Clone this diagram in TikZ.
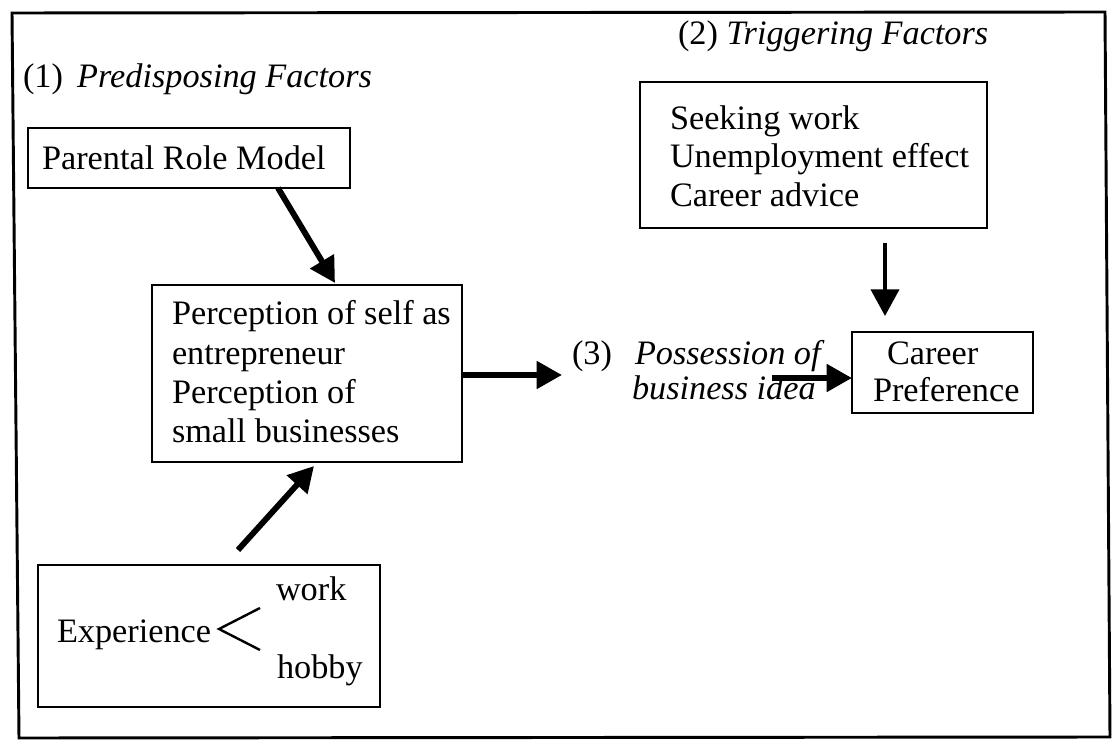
\documentclass[tikz,border=0pt]{standalone}
\usepackage{fontspec}
\setmainfont{Liberation Serif}
\usetikzlibrary{arrows.meta}
\begin{document}
\begin{tikzpicture}[x=0.75pt,y=-0.75pt,
  every node/.style={inner sep=0pt, outer sep=0pt, font=\fontsize{25.7}{29}\selectfont},
  lbl/.style={anchor=base west},
  boxline/.style={draw, line width=2.2pt},
  bigarrow/.style={line width=4.4pt, -{Triangle[length=19pt,width=20pt]}},
  thinarrow/.style={line width=3pt, -{Triangle[length=20pt,width=21pt]}}]
\useasboundingbox (0,0) rectangle (1118,745);

% outer frame
\draw[line width=2.2pt] (12,13) -- (1105,12) -- (1110,737) -- (19,738) -- cycle;

% section headings
\node[lbl] (trig) at (678,45) {(2) \textit{Triggering Factors}};
\node[lbl] (pred) at (23,88) {(1)\, \textit{Predisposing Factors}};

% predisposing: parental role model
\draw[boxline] (28,128) rectangle (350,188);
\node[lbl] (parent) at (42,170) {Parental Role Model};
\coordinate (parentS) at (278,188);

% triggering factors box
\draw[boxline] (640,82) rectangle (987,228);
\node[lbl] (t1) at (670,130) {Seeking work};
\node[lbl] (t2) at (670,168) {Unemployment effect};
\node[lbl] (t3) at (670,207) {Career advice};
\coordinate (trigS) at (885,243);

% perception box
\draw[boxline] (152,285) rectangle (462,462);
\node[lbl] (p1) at (172,325) {Perception of self as};
\node[lbl] (p2) at (172,364) {entrepreneur};
\node[lbl] (p3) at (172,403) {Perception of};
\node[lbl] (p4) at (172,442) {small businesses};
\coordinate (percN) at (335,283);
\coordinate (percE) at (462,375);
\coordinate (percS) at (314,466);

% career preference box
\draw[boxline] (852,332) rectangle (1033,413);
\node[lbl] (c1) at (887,365) {Career};
\node[lbl] (c2) at (873,402) {Preference};
\coordinate (careerN) at (885,316);
\coordinate (careerW) at (852,378);

% possession of business idea
\node[lbl] (n3) at (572,365) {(3)};
\node[lbl] (poss) at (635,365) {\textit{Possession of}};
\node[lbl] (idea) at (632,400) {\textit{business idea}};
\coordinate (ideaE) at (772,378);
\coordinate (ideaW) at (562,375);

% experience box
\draw[boxline] (38,565) rectangle (380,707);
\node[lbl] (exp) at (57,642) {Experience};
\node[lbl] (work) at (276,600) {work};
\node[lbl] (hobby) at (277,678) {hobby};
\draw[line width=1.8pt] (260,608) -- (219,629) -- (260,650);
\coordinate (expN) at (238,550);

% connectors
\draw[bigarrow] (parentS) -- (percN);
\draw[bigarrow] (expN) -- (percS);
\draw[bigarrow] (percE) -- (ideaW);
\draw[thinarrow] (trigS) -- (careerN);
\draw[bigarrow] (ideaE) -- (careerW);
\end{tikzpicture}
\end{document}
